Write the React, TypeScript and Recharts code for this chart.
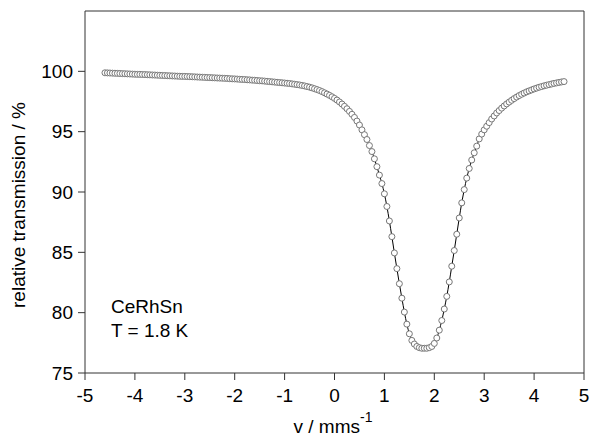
import { LineChart, Line, XAxis, YAxis, Label } from 'recharts';

// velocity channels (mm/s) and relative transmission (%)
const velocity = [
  -4.6, -4.55, -4.5, -4.45, -4.4, -4.35, -4.3, -4.25, -4.2, -4.15,
  -4.1, -4.05, -4.0, -3.95, -3.9, -3.85, -3.8, -3.75, -3.7, -3.65,
  -3.6, -3.55, -3.5, -3.45, -3.4, -3.35, -3.3, -3.25, -3.2, -3.15,
  -3.1, -3.05, -3.0, -2.95, -2.9, -2.85, -2.8, -2.75, -2.7, -2.65,
  -2.6, -2.55, -2.5, -2.45, -2.4, -2.35, -2.3, -2.25, -2.2, -2.15,
  -2.1, -2.05, -2.0, -1.95, -1.9, -1.85, -1.8, -1.75, -1.7, -1.65,
  -1.6, -1.55, -1.5, -1.45, -1.4, -1.35, -1.3, -1.25, -1.2, -1.15,
  -1.1, -1.05, -1.0, -0.95, -0.9, -0.85, -0.8, -0.75, -0.7, -0.65,
  -0.6, -0.55, -0.5, -0.45, -0.4, -0.35, -0.3, -0.25, -0.2, -0.15,
  -0.1, -0.05, 0.0, 0.05, 0.1, 0.15, 0.2, 0.25, 0.3, 0.35,
  0.4, 0.45, 0.5, 0.55, 0.6, 0.65, 0.7, 0.75, 0.8, 0.85,
  0.9, 0.95, 1.0, 1.05, 1.1, 1.15, 1.2, 1.25, 1.3, 1.35,
  1.4, 1.45, 1.5, 1.55, 1.6, 1.65, 1.7, 1.75, 1.8, 1.85,
  1.9, 1.95, 2.0, 2.05, 2.1, 2.15, 2.2, 2.25, 2.3, 2.35,
  2.4, 2.45, 2.5, 2.55, 2.6, 2.65, 2.7, 2.75, 2.8, 2.85,
  2.9, 2.95, 3.0, 3.05, 3.1, 3.15, 3.2, 3.25, 3.3, 3.35,
  3.4, 3.45, 3.5, 3.55, 3.6, 3.65, 3.7, 3.75, 3.8, 3.85,
  3.9, 3.95, 4.0, 4.05, 4.1, 4.15, 4.2, 4.25, 4.3, 4.35,
  4.4, 4.45, 4.5, 4.55, 4.6,
];

const transmission = [
  99.88, 99.87, 99.86, 99.85, 99.84, 99.83, 99.82, 99.81, 99.8, 99.79,
  99.78, 99.77, 99.76, 99.75, 99.75, 99.74, 99.73, 99.72, 99.71, 99.7,
  99.69, 99.68, 99.67, 99.66, 99.65, 99.64, 99.63, 99.62, 99.61, 99.6,
  99.59, 99.58, 99.58, 99.57, 99.56, 99.55, 99.54, 99.53, 99.52, 99.51,
  99.5, 99.49, 99.48, 99.47, 99.46, 99.45, 99.44, 99.43, 99.42, 99.41,
  99.39, 99.38, 99.37, 99.36, 99.34, 99.33, 99.32, 99.3, 99.29, 99.27,
  99.26, 99.24, 99.22, 99.21, 99.19, 99.17, 99.15, 99.13, 99.11, 99.09,
  99.07, 99.05, 99.03, 99.01, 98.99, 98.96, 98.93, 98.9, 98.87, 98.83,
  98.79, 98.74, 98.69, 98.63, 98.56, 98.49, 98.41, 98.32, 98.22, 98.12,
  98.01, 97.89, 97.76, 97.62, 97.46, 97.29, 97.1, 96.9, 96.68, 96.44,
  96.18, 95.88, 95.55, 95.15, 94.75, 94.35, 93.85, 93.35, 92.75, 92.1,
  91.4, 90.7, 89.85, 88.8, 87.6, 86.3, 84.95, 83.65, 82.4, 81.2,
  80.05, 79.05, 78.25, 77.7, 77.4, 77.2, 77.1, 77.05, 77.05, 77.05,
  77.1, 77.2, 77.45, 77.9, 78.55, 79.35, 80.3, 81.35, 82.55, 83.85,
  85.15, 86.5, 87.85, 89.1, 90.2, 91.15, 91.95, 92.65, 93.25, 93.8,
  94.4, 94.8, 95.15, 95.45, 95.75, 96.05, 96.3, 96.55, 96.75, 96.95,
  97.13, 97.3, 97.45, 97.6, 97.74, 97.87, 97.99, 98.1, 98.2, 98.3,
  98.38, 98.46, 98.54, 98.61, 98.68, 98.74, 98.8, 98.85, 98.9, 98.95,
  99.0, 99.04, 99.08, 99.12, 99.15,
];

const xTicks = [-5, -4, -3, -2, -1, 0, 1, 2, 3, 4, 5];
const xMinorTicks = [-4.5, -3.5, -2.5, -1.5, -0.5, 0.5, 1.5, 2.5, 3.5, 4.5];
const yTicks = [75, 80, 85, 90, 95, 100];

const data = velocity.map((v, i) => ({ v, t: transmission[i] }));

const FONT = 'Liberation Sans, Arial, sans-serif';
const AXIS = '#333';
const tickStyle = { fontSize: 19, fill: '#000', fontFamily: FONT };

export default function App() {
  return (
    <div style={{ position: 'absolute', left: 0, top: 0, background: '#fff' }}>
      <LineChart
        width={591}
        height={443}
        data={data}
        margin={{ top: 10, right: 6, left: 25, bottom: 68 }}
        style={{ fontFamily: FONT }}
      >
        <XAxis
          dataKey="v"
          type="number"
          domain={[-5, 5]}
          ticks={xTicks}
          height={1}
          tickSize={7}
          tickMargin={9}
          tick={tickStyle}
          stroke={AXIS}
          tickLine={{ stroke: AXIS }}
          interval={0}
          allowDataOverflow
        >
          <Label
            content={() => (
              <text x={333} y={433} textAnchor="middle" fontSize={19} fill="#000" fontFamily={FONT}>
                v / mms
                <tspan dy={-11} fontSize={14}>-1</tspan>
              </text>
            )}
          />
        </XAxis>
        <XAxis
          xAxisId="minor"
          dataKey="v"
          type="number"
          domain={[-5, 5]}
          ticks={xMinorTicks}
          height={1}
          tickSize={4}
          tick={false}
          stroke={AXIS}
          axisLine={false}
          interval={0}
          allowDataOverflow
        />
        <XAxis
          xAxisId="top"
          orientation="top"
          dataKey="v"
          type="number"
          domain={[-5, 5]}
          height={1}
          tick={false}
          tickLine={false}
          stroke={AXIS}
        />
        <YAxis
          type="number"
          domain={[75, 105]}
          ticks={yTicks}
          width={60}
          tickSize={7}
          tickMargin={5}
          tick={tickStyle}
          stroke={AXIS}
          interval={0}
          allowDataOverflow
        >
          <Label
            content={() => (
              <g>
                <text
                  x={25}
                  y={205}
                  transform="rotate(-90 25 205)"
                  textAnchor="middle"
                  fontSize={19}
                  fill="#000"
                  fontFamily={FONT}
                >
                  relative transmission / %
                </text>
                <text x={111} y={313} fontSize={19} fill="#000" fontFamily={FONT}>CeRhSn</text>
                <text x={111} y={337} fontSize={19} fill="#000" fontFamily={FONT}>T = 1.8 K</text>
              </g>
            )}
          />
        </YAxis>
        <YAxis
          yAxisId="right"
          orientation="right"
          type="number"
          domain={[75, 105]}
          width={1}
          tick={false}
          tickLine={false}
          stroke={AXIS}
        />
        <Line
          dataKey="t"
          type="monotone"
          stroke="#000"
          strokeWidth={1}
          dot={{ r: 3, fill: '#fff', stroke: '#777', strokeWidth: 1 }}
          isAnimationActive={false}
        />
      </LineChart>
    </div>
  );
}
